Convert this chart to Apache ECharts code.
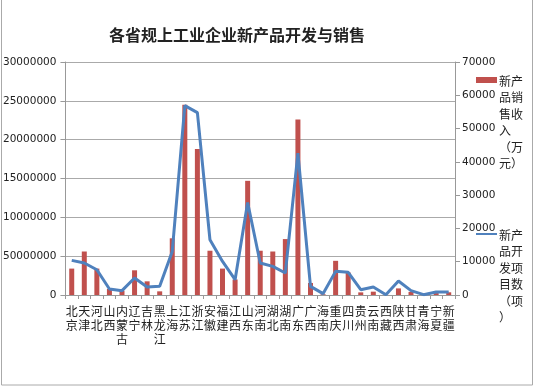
<!DOCTYPE html>
<html>
<head>
<meta charset="utf-8">
<script src="https://cdn.jsdelivr.net/npm/echarts@6/dist/echarts.min.js"></script>
<style>html,body{margin:0;padding:0;background:#fff;}#c{width:535px;height:387px;}</style>
</head>
<body>
<div id="c"></div>
<script>
var provinces = ['北京','天津','河北','山西','内蒙古','辽宁','吉林','黑龙江','上海','江苏','浙江','安徽','福建','江西','山东','河南','湖北','湖南','广东','广西','海南','重庆','四川','贵州','云南','西藏','陕西','甘肃','青海','宁夏','新疆'];
var salesRevenue = [3400000,5600000,3400000,780000,550000,3180000,1760000,470000,7300000,24500000,18800000,5700000,3400000,2000000,14700000,5700000,5600000,7200000,22600000,1550000,100000,4400000,2900000,340000,430000,20000,850000,400000,50000,250000,350000];
var projectCount = [10400,9600,7600,1800,1300,5100,2400,2600,13100,56900,54800,16600,10100,4600,27800,9600,8600,6600,42600,2600,400,7100,6800,1600,2400,100,4200,1300,100,900,900];
var leftTickLabels = ['0','50000000','10000000','15000000','20000000','25000000','30000000'];
var rightTickLabels = ['0','10000','20000','30000','40000','50000','60000','70000'];
var titleText = '各省规上工业企业新产品开发与销售';
var seriesNames = ['新产品销售收入（万元）','新产品开发项目数（项）'];
var legendLines1 = ['新产','品销','售收','入','（万','元）'];
var legendLines2 = ['新产','品开','发项','目数','（项','）'];

var chart = echarts.init(document.getElementById('c'));
var txtColor = '#222';
chart.setOption({
  animation: false,
  backgroundColor: '#fff',
  title: {
    text: titleText, left: 232, top: 22, textAlign: 'center',
    textStyle: {fontSize: 16, fontWeight: 'bold', color: '#222', fontFamily: 'Noto Sans CJK SC'}
  },
  grid: {left: 63, right: 80, top: 62, bottom: 92},
  xAxis: {
    type: 'category', data: provinces,
    axisLine: {lineStyle: {color: '#999'}},
    axisTick: {show: true, alignWithLabel: false, length: 4, lineStyle: {color: '#999'}},
    axisLabel: {
      interval: 0, margin: 9, fontSize: 12, lineHeight: 14, color: txtColor,
      fontFamily: 'Noto Sans CJK SC',
      formatter: function (v) { return v.split('').join('\n'); }
    }
  },
  yAxis: [{
    type: 'value', min: 0, max: 30000000, interval: 5000000,
    axisLine: {show: true, lineStyle: {color: '#999'}},
    axisTick: {show: true, length: 5, lineStyle: {color: '#999'}},
    splitLine: {lineStyle: {color: '#aaa', width: 1}},
    axisLabel: {fontSize: 10.5, color: txtColor, margin: 9, fontFamily: 'DejaVu Sans',
      formatter: function (v) { return leftTickLabels[Math.round(v / 5000000)]; }}
  }, {
    type: 'value', min: 0, max: 70000, interval: 10000, position: 'right',
    axisLine: {show: true, lineStyle: {color: '#999'}},
    axisTick: {show: true, length: 5, lineStyle: {color: '#999'}},
    splitLine: {show: false},
    axisLabel: {fontSize: 10.5, color: txtColor, margin: 7, fontFamily: 'DejaVu Sans',
      formatter: function (v) { return rightTickLabels[Math.round(v / 10000)]; }}
  }],
  series: [{
    name: seriesNames[0], type: 'bar', data: salesRevenue, yAxisIndex: 0,
    barWidth: 5, itemStyle: {color: '#C0504D'}
  }, {
    name: seriesNames[1], type: 'line', data: projectCount, yAxisIndex: 1,
    showSymbol: false, symbol: 'none', lineStyle: {color: '#4F81BD', width: 3},
    itemStyle: {color: '#4F81BD'}
  }],
  graphic: [
    {type: 'rect', shape: {x: 1.5, y: -2, width: 531, height: 387}, style: {fill: 'none', stroke: '#aaa', lineWidth: 1}, silent: true},
    {type: 'rect', shape: {x: 476, y: 77, width: 21, height: 6}, style: {fill: '#C0504D'}},
    {type: 'text', left: 499, top: 73, style: {text: legendLines1.join('\n'), fontSize: 12, lineHeight: 16.5, fill: txtColor, fontFamily: 'Noto Sans CJK SC'}},
    {type: 'line', shape: {x1: 476, y1: 234, x2: 497, y2: 234}, style: {stroke: '#4F81BD', lineWidth: 2}},
    {type: 'text', left: 499, top: 227, style: {text: legendLines2.join('\n'), fontSize: 12, lineHeight: 16.5, fill: txtColor, fontFamily: 'Noto Sans CJK SC'}}
  ]
});
</script>
</body>
</html>
